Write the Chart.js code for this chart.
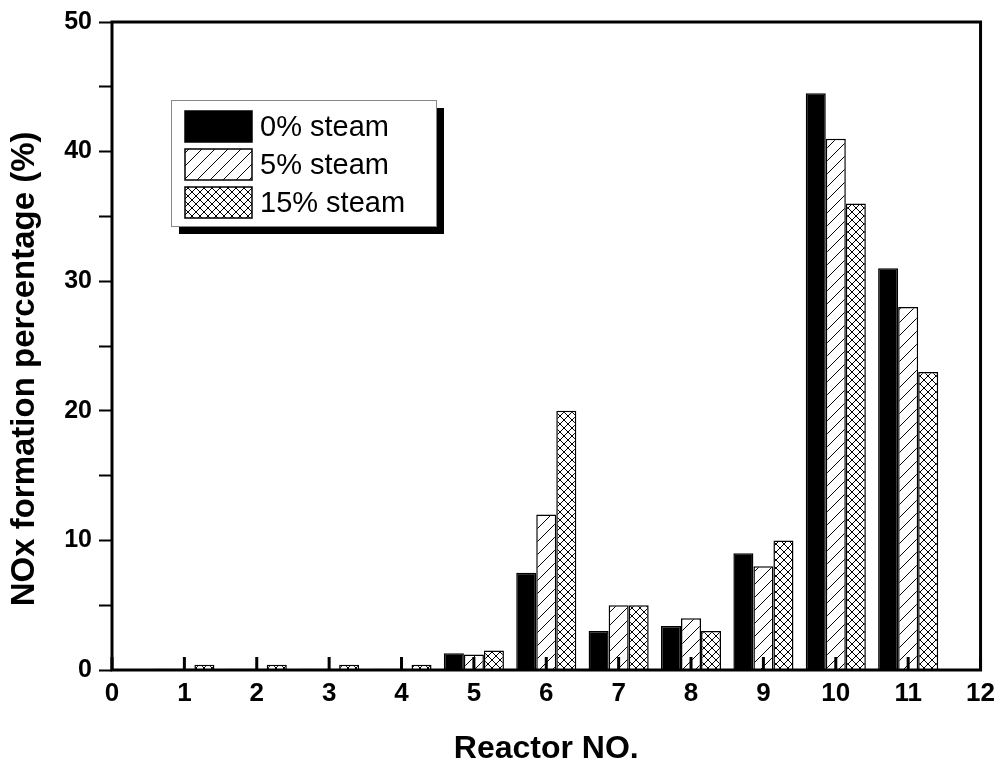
<!DOCTYPE html>
<html>
<head>
<meta charset="utf-8">
<script src="https://cdn.jsdelivr.net/npm/chart.js@4/dist/chart.umd.min.js"></script>
<style>
  html, body { margin: 0; padding: 0; background: #fff; }
  #wrap { width: 1003px; height: 769px; }
</style>
</head>
<body>
<div id="wrap"><canvas id="chart" width="1003" height="769"></canvas></div>
<script>
// reactor numbers on the x axis (bars only at 1..11)
const reactors = ["0", "1", "2", "3", "4", "5", "6", "7", "8", "9", "10", "11", "12"];
const steam0 = [null, 0.1, 0.1, 0.1, 0.1, 1.3, 7.5, 3.0, 3.4, 9.0, 44.5, 31.0, null];
const steam5 = [null, 0.1, 0.1, 0.1, 0.1, 1.2, 12.0, 5.0, 4.0, 8.0, 41.0, 28.0, null];
const steam15 = [null, 0.4, 0.4, 0.4, 0.4, 1.5, 20.0, 5.0, 3.0, 10.0, 36.0, 23.0, null];
const seriesNames = ["0% steam", "5% steam", "15% steam"];
const yTicks = [0, 10, 20, 30, 40, 50];

const FONT = "'Liberation Sans', Arial, Helvetica, sans-serif";
const NBSP = "\u00a0";

function makePattern(size, draw) {
  const c = document.createElement("canvas");
  c.width = size;
  c.height = size;
  const g = c.getContext("2d");
  g.fillStyle = "#fff";
  g.fillRect(0, 0, size, size);
  g.strokeStyle = "#000";
  g.lineWidth = 1;
  draw(g, size);
  return g.createPattern(c, "repeat");
}

const hatch = makePattern(13, (g, s) => {
  g.beginPath();
  g.moveTo(0, s); g.lineTo(s, 0);
  g.moveTo(-1, 1); g.lineTo(1, -1);
  g.moveTo(s - 1, s + 1); g.lineTo(s + 1, s - 1);
  g.stroke();
});

const cross = makePattern(8, (g, s) => {
  g.beginPath();
  g.moveTo(0, s); g.lineTo(s, 0);
  g.moveTo(0, 0); g.lineTo(s, s);
  g.stroke();
});

// frame, inward x ticks
const framePlugin = {
  id: "frame",
  afterDatasetsDraw(chart) {
    const { ctx, chartArea: a, scales } = chart;
    ctx.save();
    ctx.strokeStyle = "#000";
    ctx.lineWidth = 3;
    ctx.strokeRect(a.left, a.top, a.right - a.left, a.bottom - a.top);
    ctx.beginPath();
    reactors.forEach((r, i) => {
      const x = scales.x.getPixelForValue(i);
      ctx.moveTo(x, a.bottom);
      ctx.lineTo(x, a.bottom - 13);
    });
    ctx.stroke();
    ctx.restore();
  }
};

// legend drawn inside the plot with a drop shadow
const legendPlugin = {
  id: "boxLegend",
  afterDraw(chart) {
    const { ctx } = chart;
    const x0 = 171, y0 = 100, w = 265, h = 126;
    ctx.save();
    ctx.fillStyle = "#000";
    ctx.fillRect(x0 + 8, y0 + 8, w, h);
    ctx.fillStyle = "#fff";
    ctx.fillRect(x0, y0, w, h);
    ctx.strokeStyle = "#888";
    ctx.lineWidth = 1;
    ctx.strokeRect(x0 + 0.5, y0 + 0.5, w, h);
    ctx.font = "29px " + FONT;
    ctx.textBaseline = "middle";
    chart.data.datasets.forEach((ds, i) => {
      const by = 111 + i * 38;
      ctx.fillStyle = ds.backgroundColor;
      ctx.fillRect(185, by, 67, 31);
      ctx.strokeStyle = "#000";
      ctx.lineWidth = 1.5;
      ctx.strokeRect(185, by, 67, 31);
      ctx.fillStyle = "#000";
      ctx.fillText(ds.label, 260, by + 17);
    });
    ctx.restore();
  }
};

new Chart(document.getElementById("chart"), {
  type: "bar",
  data: {
    labels: reactors,
    datasets: [
      { label: seriesNames[0], data: steam0, backgroundColor: "#000", borderColor: "#000", borderWidth: 1.5 },
      { label: seriesNames[1], data: steam5, backgroundColor: hatch, borderColor: "#000", borderWidth: 1.5 },
      { label: seriesNames[2], data: steam15, backgroundColor: cross, borderColor: "#000", borderWidth: 1.5 }
    ]
  },
  options: {
    responsive: false,
    animation: false,
    categoryPercentage: 0.83,
    barPercentage: 1.0,
    layout: { padding: { left: 0, top: 20, right: 21, bottom: 0 } },
    plugins: {
      legend: { display: false },
      tooltip: { enabled: false }
    },
    scales: {
      x: {
        type: "category",
        offset: false,
        grid: { display: false, drawTicks: false, offset: false },
        border: { display: false },
        ticks: {
          color: "#000",
          padding: 8,
          maxRotation: 0,
          autoSkip: false,
          font: { family: FONT, size: 26, weight: "bold" }
        },
        title: {
          display: true,
          text: "Reactor NO.",
          color: "#000",
          padding: { top: 0, bottom: 1 },
          font: { family: FONT, size: 32, weight: "bold" }
        },
        afterFit(scale) { scale.height = 99; }
      },
      y: {
        min: 0,
        max: 50,
        grid: {
          drawOnChartArea: false,
          tickLength: 13,
          tickWidth: 2,
          tickColor: "#000"
        },
        border: { display: false },
        ticks: {
          stepSize: 5,
          color: "#000",
          padding: 7,
          callback: v => (yTicks.includes(v) ? v : ""),
          font: { family: FONT, size: 25, weight: "bold" }
        },
        title: {
          display: true,
          // trailing spaces push the visible text down a little, as in the original
          text: "NOx formation percentage (%)" + NBSP.repeat(5),
          color: "#000",
          padding: { top: 5, bottom: 0 },
          font: { family: FONT, size: 33, weight: "bold" }
        },
        afterFit(scale) { scale.width = 112; }
      }
    }
  },
  plugins: [framePlugin, legendPlugin]
});
</script>
</body>
</html>
